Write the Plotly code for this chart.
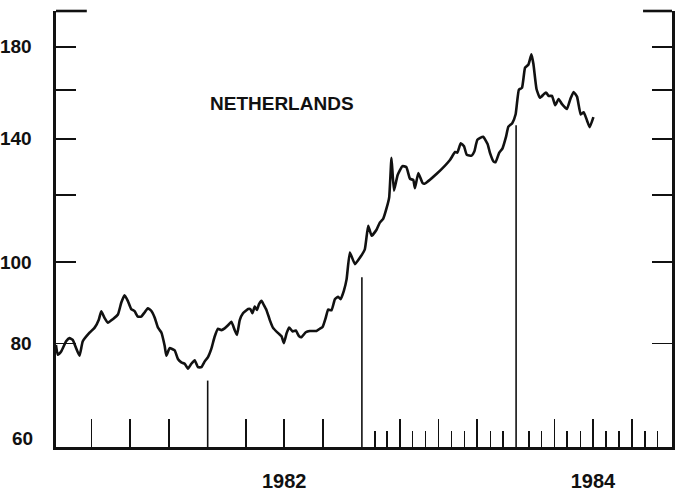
import math
import pandas as pd
import plotly.graph_objects as go

# ---- data (decimal year, index value) ----
decimal_years = [
    1981.016, 1981.028, 1981.050, 1981.082, 1981.104, 1981.125, 1981.147, 1981.169, 1981.190, 1981.234,
    1981.266, 1981.294, 1981.310, 1981.331, 1981.353, 1981.385, 1981.418, 1981.440, 1981.461, 1981.482,
    1981.504, 1981.526, 1981.547, 1981.569, 1981.591, 1981.612, 1981.634, 1981.656, 1981.677, 1981.699,
    1981.721, 1981.732, 1981.753, 1981.786, 1981.807, 1981.829, 1981.851, 1981.872, 1981.894, 1981.916,
    1981.937, 1981.959, 1981.981, 1982.002, 1982.024, 1982.045, 1982.067, 1982.089, 1982.110, 1982.132,
    1982.154, 1982.175, 1982.190, 1982.208, 1982.229, 1982.262, 1982.277, 1982.290, 1982.305, 1982.320,
    1982.333, 1982.349, 1982.364, 1982.381, 1982.403, 1982.424, 1982.457, 1982.479, 1982.494, 1982.512,
    1982.528, 1982.551, 1982.571, 1982.593, 1982.608, 1982.636, 1982.662, 1982.706, 1982.727, 1982.745,
    1982.766, 1982.781, 1982.803, 1982.825, 1982.846, 1982.862, 1982.883, 1982.901, 1982.922, 1982.955,
    1982.988, 1983.019, 1983.041, 1983.063, 1983.095, 1983.117, 1983.138, 1983.160, 1983.177, 1983.192,
    1983.208, 1983.232, 1983.263, 1983.288, 1983.312, 1983.333, 1983.344, 1983.366, 1983.393, 1983.406,
    1983.487, 1983.571, 1983.604, 1983.619, 1983.641, 1983.662, 1983.680, 1983.712, 1983.729, 1983.749,
    1983.786, 1983.815, 1983.831, 1983.853, 1983.867, 1983.890, 1983.912, 1983.934, 1983.950, 1983.975,
    1983.997, 1984.018, 1984.038, 1984.058, 1984.080, 1984.099, 1984.112, 1984.132, 1984.154, 1984.182,
    1984.195, 1984.210, 1984.232, 1984.253, 1984.275, 1984.297, 1984.329, 1984.351, 1984.372, 1984.394,
    1984.418, 1984.437, 1984.459, 1984.476, 1984.500,
]
index_values = [
    79.7, 77.6, 78.3, 80.5, 81.2, 80.8, 79.0, 77.4, 80.5, 82.4,
    83.5, 85.4, 87.4, 85.8, 84.7, 85.5, 86.6, 89.5, 91.3, 89.9,
    87.9, 87.4, 86.1, 86.1, 87.1, 88.1, 87.5, 85.9, 83.6, 82.5,
    79.5, 77.4, 79.0, 78.5, 76.7, 76.0, 75.7, 74.7, 75.7, 76.4,
    75.0, 75.0, 76.2, 77.1, 78.9, 81.5, 83.3, 83.0, 83.4, 84.1,
    84.9, 83.0, 81.9, 85.3, 86.9, 87.9, 87.9, 86.9, 88.5, 87.7,
    89.1, 89.9, 88.9, 87.7, 85.3, 83.5, 82.3, 81.6, 80.1, 82.3,
    83.6, 82.7, 82.9, 81.6, 81.4, 82.5, 82.8, 82.8, 83.3, 83.7,
    85.9, 87.8, 87.6, 90.3, 90.9, 90.3, 92.4, 95.4, 102.6, 99.4,
    101.2, 103.5, 110.4, 107.4, 109.2, 111.4, 112.5, 115.8, 119.3, 132.9,
    121.5, 126.8, 129.9, 129.6, 125.5, 125.1, 122.3, 127.5, 124.1, 123.8,
    127.3, 132.1, 135.0, 134.8, 138.3, 137.2, 134.0, 133.7, 135.2, 139.6,
    140.8, 138.0, 134.6, 131.6, 131.3, 134.7, 136.4, 140.6, 144.7, 146.1,
    149.7, 160.1, 160.9, 170.0, 171.5, 176.3, 171.7, 160.4, 156.6, 158.3,
    158.8, 157.4, 157.4, 153.4, 156.1, 153.9, 151.9, 156.1, 159.1, 157.1,
    149.6, 150.5, 147.1, 144.5, 148.5,
]

country_label = "NETHERLANDS"

y_tick_values = [80, 100, 120, 140, 160, 180]
y_tick_text = ["80", "100", "", "140", "", "180"]
y_bottom_label = "60"
y_bottom_label_value = 61.8
y_range_values = [60.3, 198.5]
x_range_dates = ["1981-01-07", "1985-01-04"]

# major (quarterly) ticks, with year labels at mid-year
quarter_ticks = [
    "1981-04-01", "1981-07-01", "1981-10-01",
    "1982-04-01", "1982-07-01", "1982-10-01",
    "1983-04-01", "1983-07-01", "1983-10-01",
    "1984-04-01", "1984-07-01", "1984-10-01",
]
year_labels = {"1982-07-01": "1982", "1984-07-01": "1984"}
# minor (monthly) ticks in 1983-84
month_ticks = [
    f"{y}-{m:02d}-01" for y in (1983, 1984) for m in (2, 3, 5, 6, 8, 9, 11, 12)
]
# year separator lines and where they stop (index value)
year_line_dates = ["1982-01-01", "1983-01-01", "1984-01-01"]
year_line_tops = [72.3, 95.9, 145.3]


def to_date(t):
    y = int(t)
    start = pd.Timestamp(f"{y}-01-01")
    end = pd.Timestamp(f"{y + 1}-01-01")
    return start + (end - start) * (t - y)


dates = [to_date(t) for t in decimal_years]
assert len(dates) == len(index_values)

FONT = "Liberation Sans, Arial, Helvetica, sans-serif"
INK = "#111111"

fig = go.Figure()
fig.add_trace(go.Scatter(
    x=dates, y=index_values, mode="lines",
    line=dict(color=INK, width=2.6, shape="spline", smoothing=0.4),
    hoverinfo="skip", showlegend=False,
))

shapes = []
for d, top in zip(year_line_dates, year_line_tops):
    shapes.append(dict(type="line", xref="x", yref="y", x0=d, x1=d,
                       y0=y_range_values[0], y1=top,
                       line=dict(color=INK, width=1.6)))
# short bars at the top of both vertical axes
shapes.append(dict(type="line", xref="paper", yref="paper", x0=0, x1=0.05, y0=1, y1=1,
                   line=dict(color=INK, width=2.6)))
shapes.append(dict(type="line", xref="paper", yref="paper", x0=0.953, x1=1, y0=1, y1=1,
                   line=dict(color=INK, width=2.6)))

fig.update_layout(
    width=681, height=494,
    margin=dict(l=56, r=9, t=11, b=47, autoexpand=False),
    paper_bgcolor="white", plot_bgcolor="white",
    font=dict(family=FONT, color=INK, size=19, weight="bold"),
    shapes=shapes,
    xaxis=dict(
        type="date", range=x_range_dates, automargin=False,
        showline=True, linecolor=INK, linewidth=2.6, mirror=False,
        showgrid=False, zeroline=False,
        ticks="inside", ticklen=28, tickwidth=1.6, tickcolor=INK,
        tickmode="array", tickvals=quarter_ticks,
        ticktext=[year_labels.get(q, "") for q in quarter_ticks],
        tickfont=dict(family=FONT, size=20, color=INK, weight="bold"),
        ticklabelstandoff=14,
        minor=dict(tickmode="array", tickvals=month_ticks, ticks="inside",
                   ticklen=16, tickwidth=1.6, tickcolor=INK, showgrid=False),
    ),
    yaxis=dict(
        type="log", range=[math.log10(v) for v in y_range_values], automargin=False,
        showline=True, linecolor=INK, linewidth=2.6, mirror="ticks",
        showgrid=False, zeroline=False,
        ticks="inside", ticklen=20, tickwidth=1.8, tickcolor=INK,
        tickmode="array", tickvals=y_tick_values, ticktext=y_tick_text,
        tickfont=dict(family=FONT, size=19, color=INK, weight="bold"),
        ticklabelstandoff=18,
    ),
    annotations=[
        dict(text=y_bottom_label, xref="paper", yref="y", x=-0.034,
             y=math.log10(y_bottom_label_value), xanchor="right", yanchor="middle",
             showarrow=False, font=dict(family=FONT, size=19, color=INK, weight="bold")),
        dict(text=country_label, xref="paper", yref="paper", x=0.2468, y=0.787,
             xanchor="left", yanchor="middle", showarrow=False,
             font=dict(family=FONT, size=19, color=INK, weight="bold")),
    ],
)

fig.write_html(
    "out.html",
    config={"displayModeBar": False, "staticPlot": True},
    post_script="document.body.style.margin='0';document.body.style.overflow='hidden';",
)
